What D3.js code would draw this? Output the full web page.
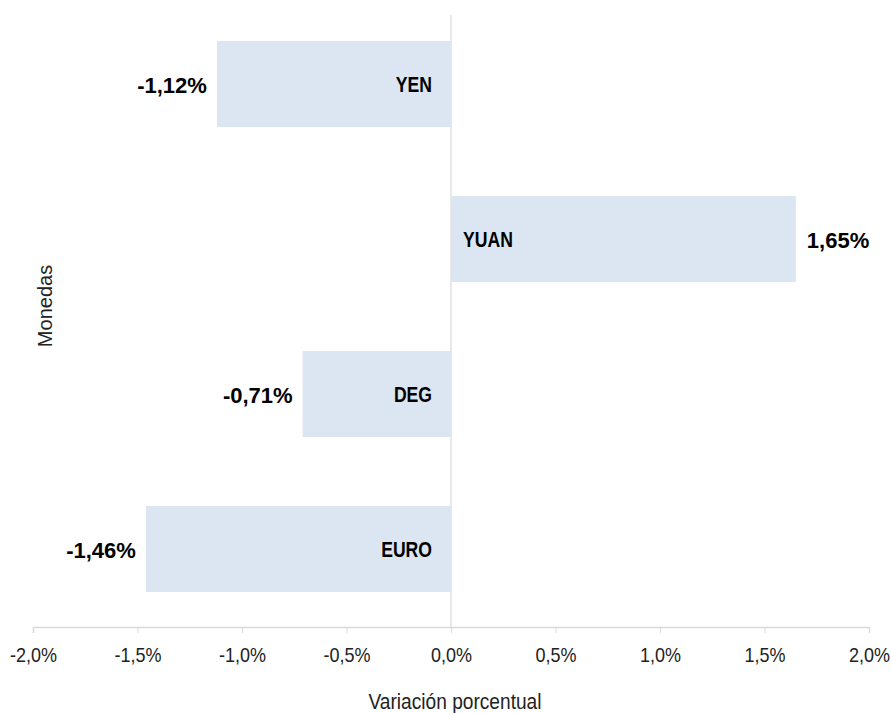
<!DOCTYPE html>
<html>
<head>
<meta charset="utf-8">
<script src="https://cdn.jsdelivr.net/npm/d3@7"></script>
<style>
  body { margin: 0; background: #fff; }
  text { font-family: "Liberation Sans", Arial, sans-serif; }
</style>
</head>
<body>
<div id="chart"></div>
<script>
var monedas = ["YEN", "YUAN", "DEG", "EURO"];
var variacion = [-1.12, 1.65, -0.71, -1.46];
var etiquetas = ["-1,12%", "1,65%", "-0,71%", "-1,46%"];
var ticks = [-2, -1.5, -1, -0.5, 0, 0.5, 1, 1.5, 2];

var width = 891, height = 713;
var svg = d3.select("#chart").append("svg")
    .attr("width", width)
    .attr("height", height);

var x = d3.scaleLinear().domain([-2, 2]).range([33, 869]);
var y = d3.scaleBand().domain(monedas).range([6.5, 626.5])
    .paddingInner(0.445).paddingOuter(0.2225);

var data = monedas.map(function(m, i) { return {name: m, value: variacion[i], label: etiquetas[i]}; });
// formato con coma decimal y guion normal
var fmt = function(d) { return (d < 0 ? "-" : "") + Math.abs(d).toFixed(1).replace(".", ",") + "%"; };

// eje x
var axis = svg.append("g")
    .attr("transform", "translate(0,627)")
    .call(d3.axisBottom(x).tickValues(ticks).tickSize(6).tickFormat(fmt));
axis.select(".domain").attr("stroke", "#d9d9d9").attr("stroke-width", 1.5);
axis.selectAll(".tick line").attr("stroke", "#d9d9d9");
axis.selectAll(".tick text")
    .attr("fill", "#222")
    .attr("y", 0).attr("dy", null)
    .attr("transform", "translate(0,35) scale(0.9,1)")
    .style("font-size", "20px")
    .style("font-family", "\"Liberation Sans\", Arial, sans-serif");

// linea del cero
svg.append("line")
    .attr("x1", x(0)).attr("x2", x(0))
    .attr("y1", 15).attr("y2", 627)
    .attr("stroke", "#d9d9d9").attr("stroke-width", 1.2);

svg.append("g").selectAll("rect")
    .data(data)
    .enter().append("rect")
      .attr("x", function(d) { return x(Math.min(0, d.value)); })
      .attr("y", function(d) { return y(d.name); })
      .attr("width", function(d) { return Math.abs(x(d.value) - x(0)); })
      .attr("height", y.bandwidth())
      .attr("fill", "#dce6f2");

// nombre de la moneda dentro de la barra
svg.append("g").selectAll("text")
    .data(data)
    .enter().append("text")
      .attr("transform", function(d) {
        var tx = d.value < 0 ? x(0) - 19 : x(0) + 12;
        var ty = y(d.name) + y.bandwidth() / 2 + 8;
        return "translate(" + tx + "," + ty + ") scale(0.8,1)";
      })
      .attr("text-anchor", function(d) { return d.value < 0 ? "end" : "start"; })
      .style("font-size", "22px")
      .style("font-weight", "bold")
      .attr("fill", "#000")
      .text(function(d) { return d.name; });

// valor
svg.append("g").selectAll("text")
    .data(data)
    .enter().append("text")
      .attr("x", function(d) { return d.value < 0 ? x(d.value) - 10 : x(d.value) + 11; })
      .attr("y", function(d) { return y(d.name) + y.bandwidth() / 2 + 9; })
      .attr("text-anchor", function(d) { return d.value < 0 ? "end" : "start"; })
      .style("font-size", "22px")
      .style("font-weight", "bold")
      .attr("fill", "#000")
      .text(function(d) { return d.label; });

svg.append("text")
    .attr("transform", "translate(" + (x(0) + 4) + ",709) scale(0.87,1)")
    .attr("text-anchor", "middle")
    .style("font-size", "22px")
    .attr("fill", "#222")
    .text("Variación porcentual");

svg.append("text")
    .attr("transform", "translate(52,306) rotate(-90)")
    .attr("text-anchor", "middle")
    .style("font-size", "20px")
    .attr("fill", "#222")
    .text("Monedas");
</script>
</body>
</html>
